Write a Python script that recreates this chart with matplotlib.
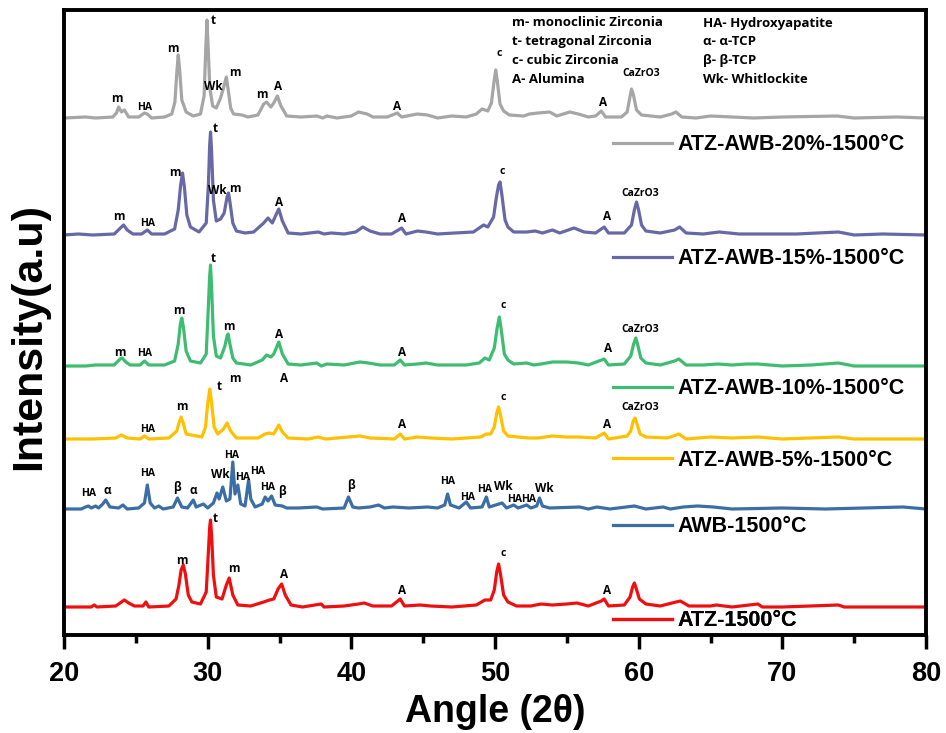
import matplotlib.pyplot as plt
from matplotlib.ticker import MultipleLocator

plt.rcParams['font.family'] = ['Liberation Sans', 'DejaVu Sans']

# each trace: angle (2theta) and intensity above its own baseline (a.u.)
gray_x = [20.0, 21.5, 22.2, 23.4, 23.65, 23.8, 24.0, 24.2, 24.5, 25.2, 25.6, 25.8, 26.1, 27.0, 27.5, 27.72,
          27.85, 27.95, 28.05, 28.2, 28.5, 29.0, 29.5, 29.75, 29.87, 29.95, 30.03, 30.15, 30.35, 30.6, 30.9,
          31.1, 31.3, 31.45, 31.6, 31.8, 32.4, 32.8, 33.5, 33.9, 34.1, 34.4, 34.6, 34.85, 35.1, 35.5, 36.5,
          37.6, 38.0, 38.3, 39.0, 40.0, 40.5, 41.1, 41.5, 42.5, 43.2, 43.5, 44.6, 45.3, 46.0, 47.0, 48.0,
          48.7, 49.1, 49.5, 49.75, 49.92, 50.05, 50.15, 50.35, 50.6, 51.0, 52.0, 52.4, 53.0, 53.8, 54.3,
          55.2, 55.8, 56.5, 57.0, 57.4, 57.7, 58.8, 59.2, 59.38, 59.5, 59.62, 59.85, 60.2, 61.5, 62.3, 62.6,
          63.0, 64.0, 65.0, 66.5, 68.0, 70.0, 73.8, 75.0, 78.0, 80.0]
gray_y = [0, 1, 0, 1, 5, 11, 6, 8, 1, 1, 5, 4, 0, 1, 4, 16,
          45, 63, 48, 18, 6, 2, 4, 22, 70, 98, 72, 30, 12, 10, 20,
          30, 41, 26, 10, 4, 3, 1, 3, 14, 16, 11, 15, 22, 12, 2, 1,
          2, 0, 2, 0, 2, 6, 4, 1, 1, 5, 1, 4, 3, 0, 2, 1,
          4, 9, 7, 15, 35, 48, 38, 14, 7, 3, 2, 4, 5, 6, 2,
          6, 4, 1, 2, 7, 1, 1, 6, 20, 29, 24, 8, 3, 1, 4, 6,
          1, 0, 2, 1, 0, 1, 2, 0, 1, 0]

purple_x = [20.0, 21.0, 22.0, 23.5, 24.0, 24.15, 24.4, 24.8, 25.4, 25.8, 26.1, 27.0, 27.7, 27.95, 28.12,
            28.25, 28.38, 28.55, 28.8, 29.4, 29.9, 30.05, 30.14, 30.2, 30.27, 30.4, 30.6, 30.9, 31.15, 31.35,
            31.45, 31.58, 31.75, 32.0, 32.6, 33.2, 33.9, 34.2, 34.5, 34.75, 34.95, 35.2, 35.6, 36.5, 37.7,
            38.1, 38.6, 39.5, 40.3, 40.8, 41.3, 42.0, 42.8, 43.5, 43.8, 44.6, 45.2, 46.0, 47.2, 48.5, 49.2,
            49.5, 49.9, 50.1, 50.25, 50.35, 50.48, 50.7, 50.9, 51.3, 52.2, 52.8, 53.3, 54.0, 54.5, 55.5,
            56.2, 57.0, 57.6, 57.9, 59.0, 59.5, 59.7, 59.85, 59.98, 60.2, 60.5, 61.5, 62.5, 62.85, 63.3,
            64.5, 65.6, 67.0, 69.0, 71.0, 73.9, 75.0, 77.0, 80.0]
purple_y = [0, 1, 0, 1, 8, 10, 5, 1, 1, 5, 1, 1, 6, 25, 50,
            62, 48, 20, 8, 3, 12, 50, 90, 103, 85, 35, 14, 16, 22, 38,
            42, 30, 12, 4, 2, 3, 12, 17, 12, 20, 26, 14, 2, 1, 3,
            1, 2, 1, 3, 8, 4, 1, 1, 7, 1, 4, 3, 1, 2, 3, 10,
            8, 18, 38, 50, 53, 40, 15, 8, 3, 3, 4, 2, 5, 2, 7,
            3, 2, 8, 2, 2, 10, 25, 33, 26, 10, 4, 2, 5, 8, 2,
            1, 3, 1, 1, 1, 3, 0, 1, 0]

green_x = [20.0, 21.5, 22.2, 23.5, 23.9, 24.05, 24.3, 24.6, 25.3, 25.6, 25.9, 27.0, 27.7, 27.95, 28.1,
           28.2, 28.32, 28.5, 28.8, 29.5, 29.9, 30.05, 30.14, 30.2, 30.27, 30.4, 30.6, 30.9, 31.2, 31.35,
           31.42, 31.55, 31.75, 32.0, 33.0, 33.8, 34.1, 34.4, 34.6, 34.95, 35.2, 35.6, 36.5, 37.6, 37.9,
           38.3, 39.5, 40.6, 41.2, 42.0, 43.0, 43.4, 43.7, 44.6, 45.2, 46.0, 48.0, 48.9, 49.3, 49.6, 49.95,
           50.15, 50.3, 50.42, 50.65, 50.9, 51.3, 52.2, 52.7, 53.2, 54.0, 55.0, 55.8, 56.5, 57.6, 57.9,
           59.0, 59.45, 59.65, 59.8, 59.92, 60.15, 60.5, 61.5, 62.5, 62.8, 63.3, 64.5, 65.5, 66.5, 67.5,
           68.3, 70.0, 72.0, 73.9, 75.0, 80.0]
green_y = [0, 0, 1, 1, 7, 8, 4, 1, 1, 5, 1, 1, 5, 22, 42,
           48, 38, 15, 5, 3, 12, 60, 90, 101, 80, 30, 10, 8, 20, 30,
           32, 22, 8, 3, 1, 6, 11, 9, 12, 24, 12, 2, 1, 3, 0,
           2, 1, 4, 3, 1, 1, 6, 1, 2, 3, 1, 1, 3, 8, 6, 18,
           38, 49, 38, 12, 6, 2, 3, 1, 2, 4, 4, 3, 1, 7, 1,
           2, 10, 22, 28, 22, 8, 3, 1, 5, 7, 1, 1, 2, 1, 2,
           2, 0, 1, 3, 0, 0]

yellow_x = [20.0, 22.0, 23.6, 24.0, 24.4, 25.3, 25.6, 25.9, 27.3, 27.85, 28.0, 28.15, 28.3, 28.5, 29.6,
            29.85, 30.0, 30.15, 30.28, 30.45, 30.7, 31.1, 31.35, 31.6, 32.0, 33.5, 34.0, 34.3, 34.6, 34.95,
            35.2, 35.6, 37.0, 37.7, 38.2, 40.6, 41.3, 43.0, 43.4, 43.7, 44.6, 45.5, 47.0, 49.0, 49.4, 49.7,
            49.95, 50.12, 50.25, 50.38, 50.6, 50.9, 52.3, 53.0, 54.0, 55.0, 55.8, 57.0, 57.6, 57.9, 59.2,
            59.45, 59.62, 59.75, 59.88, 60.1, 60.5, 62.0, 62.8, 63.3, 65.0, 66.5, 68.3, 70.0, 73.9, 75.0, 80.0]
yellow_y = [0, 0, 1, 4, 1, 0, 3, 0, 1, 8, 16, 22, 16, 5, 2,
            12, 35, 50, 35, 12, 5, 10, 16, 8, 1, 1, 5, 6, 5, 14,
            7, 1, 0, 2, 0, 3, 1, 0, 5, 0, 2, 1, 0, 2, 5, 5,
            12, 26, 32, 24, 8, 3, 1, 1, 3, 2, 2, 1, 6, 0, 3,
            8, 18, 21, 15, 5, 2, 1, 5, 0, 2, 1, 2, 0, 2, 0, 0]

blue_x = [20.0, 21.2, 21.5, 21.7, 21.9, 22.2, 22.4, 22.7, 22.9, 23.2, 23.8, 24.1, 24.4, 25.2, 25.6,
          25.8, 26.0, 26.3, 26.6, 26.9, 27.6, 27.9, 28.2, 28.6, 29.0, 29.2, 29.7, 30.0, 30.4, 30.65,
          30.8, 31.05, 31.3, 31.55, 31.75, 31.9, 32.1, 32.3, 32.6, 32.85, 33.0, 33.3, 33.8, 34.0, 34.2,
          34.45, 34.7, 35.2, 35.5, 36.3, 37.6, 38.0, 39.5, 39.8, 40.1, 40.5, 41.3, 41.9, 42.3, 42.9,
          44.0, 45.3, 46.0, 46.5, 46.7, 46.9, 47.5, 48.0, 48.3, 49.1, 49.4, 49.6, 50.5, 50.8, 51.3,
          51.6, 52.2, 52.5, 52.9, 53.1, 53.3, 53.8, 55.9, 56.5, 57.1, 58.0, 59.7, 60.5, 61.7, 62.2,
          63.1, 64.1, 65.2, 66.5, 70.0, 73.0, 78.4, 80.0]
blue_y = [0, 0, 2, 3, 1, 3, 1, 5, 9, 2, 1, 4, 0, 1, 6,
          24, 6, 1, 3, 0, 2, 11, 2, 1, 9, 2, 5, 1, 6, 16,
          10, 22, 8, 10, 47, 15, 24, 5, 3, 29, 10, 2, 5, 12, 8,
          13, 4, 3, 1, 1, 2, 0, 1, 12, 2, 1, 2, 4, 1, 2,
          1, 2, 1, 4, 15, 4, 1, 7, 1, 2, 12, 2, 6, 1, 4,
          1, 4, 1, 3, 11, 3, 1, 2, 0, 2, 0, 3, 0, 2, 0,
          2, 3, 2, 0, 1, 0, 2, 0]

red_x = [20.0, 21.9, 22.1, 22.3, 23.6, 24.0, 24.2, 24.5, 24.9, 25.5, 25.7, 25.9, 27.3, 27.8, 28.0,
         28.15, 28.3, 28.45, 28.65, 28.9, 29.5, 29.9, 30.05, 30.14, 30.2, 30.28, 30.4, 30.6, 31.0, 31.3,
         31.5, 31.75, 32.1, 33.0, 33.9, 34.3, 34.6, 34.9, 35.15, 35.4, 35.8, 36.6, 37.9, 38.1, 39.5,
         40.5, 40.9, 41.5, 42.8, 43.4, 43.7, 44.8, 45.5, 47.0, 48.7, 49.3, 49.7, 49.95, 50.12, 50.25,
         50.38, 50.6, 50.9, 51.5, 52.5, 53.2, 54.0, 55.0, 55.7, 56.5, 57.4, 57.6, 57.9, 59.0, 59.4,
         59.58, 59.7, 59.82, 60.05, 60.5, 61.5, 62.6, 62.9, 63.5, 65.0, 65.4, 66.5, 68.3, 68.6, 70.0,
         73.9, 74.3, 80.0]
red_y = [0, 0, 2, 0, 1, 5, 7, 4, 1, 1, 5, 0, 1, 8, 22,
         37, 42, 33, 12, 5, 3, 15, 55, 80, 87, 70, 32, 10, 8, 22,
         29, 12, 2, 1, 5, 7, 8, 18, 23, 12, 2, 0, 3, 0, 1,
         3, 4, 1, 1, 8, 1, 2, 1, 0, 2, 7, 7, 17, 35, 43,
         33, 12, 5, 1, 1, 3, 2, 3, 4, 1, 6, 8, 1, 2, 10,
         20, 24, 19, 8, 3, 1, 5, 6, 1, 1, 2, 0, 3, 0, 0,
         2, 0, 0]

names = ['ATZ-AWB-20%-1500°C', 'ATZ-AWB-15%-1500°C', 'ATZ-AWB-10%-1500°C',
         'ATZ-AWB-5%-1500°C', 'AWB-1500°C', 'ATZ-1500°C']
colors = ['#a6a6a6', '#6868a6', '#3ebd72', '#ffc000', '#3a6ea5', '#ee1010']
offsets = [517, 400, 269, 196, 126, 28]
legend_y = [490, 376, 246, 175, 108, 14]

# peak labels: (text, angle, height on the stacked scale)
gray_labels = [('m', 23.7, 536), ('HA', 25.6, 528), ('m', 27.6, 587), ('t', 30.4, 615), ('Wk', 30.4, 548),
               ('m', 31.9, 562), ('m', 33.8, 541), ('A', 34.9, 549), ('A', 43.2, 529), ('c', 50.3, 582),
               ('A', 57.5, 532), ('CaZrO3', 60.2, 561)]
purple_labels = [('m', 23.8, 418), ('HA', 25.8, 411), ('m', 27.7, 463), ('t', 30.5, 507), ('Wk', 30.7, 444),
                 ('m', 31.9, 447), ('A', 35.0, 433), ('A', 43.5, 417), ('c', 50.5, 463), ('A', 57.8, 418),
                 ('CaZrO3', 60.1, 442)]
green_labels = [('m', 23.9, 283), ('HA', 25.6, 282), ('m', 28.0, 324), ('t', 30.4, 376), ('m', 31.5, 309),
                ('A', 35.0, 300), ('A', 43.5, 283), ('c', 50.6, 329), ('A', 57.9, 286), ('CaZrO3', 60.1, 306)]
yellow_labels = [('m', 31.9, 257), ('A', 35.3, 257), ('t', 30.8, 248), ('m', 28.2, 228), ('HA', 25.8, 205),
                 ('A', 43.5, 211), ('c', 50.6, 238), ('A', 57.8, 211), ('CaZrO3', 60.1, 227)]
blue_labels = [('HA', 21.7, 141), ('α', 23.0, 145), ('HA', 25.8, 162), ('β', 27.9, 147), ('α', 29.0, 144),
               ('Wk', 30.9, 161), ('HA', 31.7, 180), ('HA', 32.4, 158), ('HA', 33.5, 163), ('HA', 34.2, 148),
               ('β', 35.2, 143), ('β', 40.0, 150), ('HA', 46.7, 153), ('HA', 48.1, 138), ('HA', 49.3, 145),
               ('Wk', 50.6, 148), ('HA', 51.35, 135), ('HA', 52.35, 135), ('Wk', 53.4, 146)]
red_labels = [('t', 30.5, 116), ('m', 28.2, 74), ('m', 31.8, 67), ('A', 35.3, 61), ('A', 43.5, 45),
              ('c', 50.6, 82), ('A', 57.8, 45)]

key_left = ['m- monoclinic Zirconia', 't- tetragonal Zirconia', 'c- cubic Zirconia', 'A- Alumina']
key_right = ['HA- Hydroxyapatite', 'α- α-TCP', 'β- β-TCP', 'Wk- Whitlockite']

if __name__ == '__main__':
    fig = plt.figure(figsize=(9.46, 7.33), dpi=100)
    ax = fig.add_axes([64 / 946, 98 / 733, 862 / 946, 625 / 733])

    traces = [(gray_x, gray_y), (purple_x, purple_y), (green_x, green_y),
              (yellow_x, yellow_y), (blue_x, blue_y), (red_x, red_y)]
    lines = []
    for (xs, ys), off, col in zip(traces, offsets, colors):
        ln, = ax.plot(xs, [v + off for v in ys], color=col, lw=2.3, solid_joinstyle='round')
        lines.append(ln)

    # one legend entry next to each trace
    for ln, name, ly in zip(lines, names, legend_y):
        leg = ax.legend([ln], [name], loc='center left', bbox_to_anchor=(58.2, ly),
                        bbox_transform=ax.transData, frameon=False, borderpad=0, borderaxespad=0,
                        handlelength=2.75, handletextpad=0.25,
                        prop={'family': 'Liberation Sans', 'weight': 'bold', 'size': 15.5})
        ax.add_artist(leg)

    label_font = ['Open Sans', 'DejaVu Sans']
    for group in [gray_labels, purple_labels, green_labels, yellow_labels, blue_labels, red_labels]:
        for txt, xa, ya in group:
            small = txt in ('c', 'CaZrO3')
            size = 7.5 if small else (7.5 if txt == 'HA' else 8.5)
            ax.text(xa, ya, txt, ha='center', va='center', fontsize=size,
                    fontweight='bold', family=label_font)

    for i, (l, r) in enumerate(zip(key_left, key_right)):
        yk = 612 - i * 18.7
        ax.text(51.2, yk, l, ha='left', va='center', fontsize=9.5, fontweight='bold', family=label_font)
        ax.text(64.5, yk, r, ha='left', va='center', fontsize=9.5, fontweight='bold', family=label_font)

    ax.set_xlim(20, 80)
    ax.set_ylim(0, 625)
    ax.xaxis.set_major_locator(MultipleLocator(10))
    ax.xaxis.set_minor_locator(MultipleLocator(5))
    ax.tick_params(axis='x', which='major', direction='out', length=10, width=2.5, pad=9,
                   labelsize=19.5)
    ax.tick_params(axis='x', which='minor', direction='out', length=6, width=2.5)
    ax.set_yticks([])
    for lab in ax.get_xticklabels():
        lab.set_fontweight('bold')
    for sp in ax.spines.values():
        sp.set_linewidth(2.8)

    ax.set_xlabel('Angle (2θ)', fontsize=27, fontweight='bold', labelpad=5)
    fig.text(29 / 946, 1 - 337 / 733, 'Intensity(a.u)', rotation=90, ha='center', va='center',
             fontsize=31, fontweight='bold')

    fig.savefig('out.png', dpi=100)
